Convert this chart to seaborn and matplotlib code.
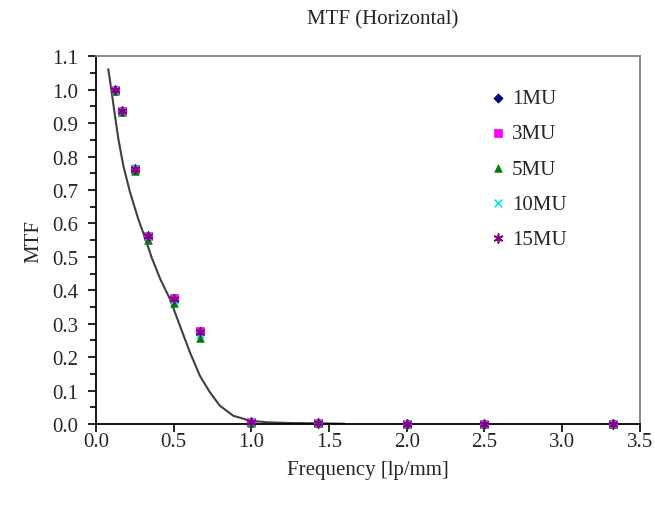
import numpy as np
import pandas as pd
import seaborn as sns
import matplotlib.pyplot as plt
from matplotlib.ticker import MultipleLocator

freq = [0.125, 0.167, 0.25, 0.333, 0.5, 0.667, 1.0, 1.43, 2.0, 2.5, 3.33]
mtf_1mu = [1.0, 0.935, 0.762, 0.56, 0.37, 0.275, 0.005, 0.002, 0.001, 0.001, 0.001]
mtf_3mu = [1.0, 0.937, 0.762, 0.562, 0.377, 0.279, 0.006, 0.002, 0.001, 0.001, 0.001]
mtf_5mu = [0.995, 0.932, 0.758, 0.55, 0.362, 0.258, 0.004, 0.002, 0.001, 0.001, 0.001]
mtf_10mu = [1.0, 0.937, 0.765, 0.563, 0.37, 0.27, 0.005, 0.002, 0.001, 0.001, 0.001]
mtf_15mu = [1.0, 0.937, 0.762, 0.562, 0.373, 0.275, 0.005, 0.002, 0.001, 0.001, 0.001]

# fitted curve
curve_x = [0.079, 0.101, 0.122, 0.144, 0.176, 0.219, 0.272, 0.326, 0.358, 0.415, 0.476,
           0.54, 0.605, 0.669, 0.733, 0.797, 0.883, 0.99, 1.108, 1.25, 1.43, 1.6]
curve_y = [1.061, 0.992, 0.922, 0.852, 0.772, 0.693, 0.613, 0.543, 0.498, 0.432, 0.374,
           0.294, 0.214, 0.144, 0.095, 0.055, 0.025, 0.010, 0.005, 0.003, 0.002, 0.001]

labels = ["1MU", "3MU", "5MU", "10MU", "15MU"]
series = [mtf_1mu, mtf_3mu, mtf_5mu, mtf_10mu, mtf_15mu]
colors = ["#000080", "#ff00ff", "#008000", "#00e5e5", "#800080"]
markers = ["D", "s", "^", "x", (6, 2, 0)]
sizes = [22, 30, 30, 30, 40]

sns.set_style("white")
plt.rcParams['font.family'] = ['Liberation Serif', 'DejaVu Serif']
fs = 15

fig = plt.figure(figsize=(6.55, 5.06), dpi=100)
ax = fig.add_axes([0.1466, 0.160, 0.830, 0.727])

sns.lineplot(x=curve_x, y=curve_y, sort=False, color="#404040", lw=1.5, ax=ax, zorder=2)

for lab, vals, c, m, s in zip(labels, series, colors, markers, sizes):
    df = pd.DataFrame({"freq": freq, "mtf": vals})
    sns.scatterplot(data=df, x="freq", y="mtf", color=c, marker=m, s=s,
                    edgecolor=c if m not in ("x", (6, 2, 0)) else None,
                    linewidth=1.2 if m in ("x", (6, 2, 0)) else 0.5,
                    label=lab, ax=ax, zorder=3, clip_on=False)

ax.set_xlim(0, 3.5)
ax.set_ylim(0, 1.1)
ax.xaxis.set_major_locator(MultipleLocator(0.5))
ax.yaxis.set_major_locator(MultipleLocator(0.1))
ax.yaxis.set_minor_locator(MultipleLocator(0.05))
ax.xaxis.set_major_formatter(plt.FormatStrFormatter("%.1f"))
ax.yaxis.set_major_formatter(plt.FormatStrFormatter("%.1f"))
ax.tick_params(axis="both", which="major", direction="out", length=6, width=1.2,
               labelsize=fs, color="black", left=True, bottom=True)
ax.tick_params(axis="x", which="major", pad=0)
ax.tick_params(axis="y", which="major", pad=7)
ax.tick_params(axis="y", which="minor", direction="out", length=4, width=1.2,
               color="black", left=True)

for side in ["left", "bottom"]:
    ax.spines[side].set_color("black")
    ax.spines[side].set_linewidth(1.3)
for side in ["top", "right"]:
    ax.spines[side].set_color("#808080")
    ax.spines[side].set_linewidth(1.3)

ax.set_xlabel("Frequency [lp/mm]", fontsize=fs, labelpad=6)
ax.set_ylabel("MTF", fontsize=fs, labelpad=6)
fig.text(383 / 655, 1 - 20 / 506, "MTF (Horizontal)", ha="center", va="center", fontsize=fs)

ax.legend(loc="upper left", bbox_to_anchor=(0.69, 0.963), frameon=False, fontsize=fs,
          labelspacing=0.75, handletextpad=0.25, handlelength=0.8, markerscale=1.0)

fig.savefig("out.png", dpi=100)
